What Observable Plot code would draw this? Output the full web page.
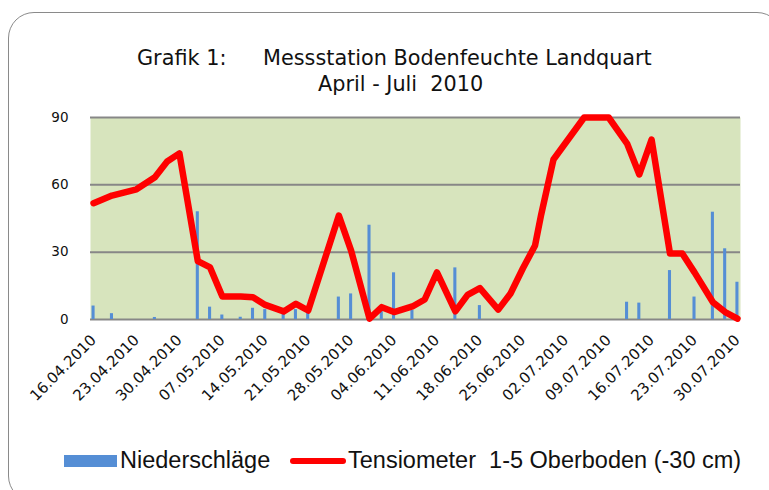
<!DOCTYPE html>
<html><head><meta charset="utf-8">
<script src="https://cdn.jsdelivr.net/npm/d3@7"></script>
<script src="https://cdn.jsdelivr.net/npm/@observablehq/plot@0.6"></script>
<style>
body{margin:0;background:#fff;}
#wrap{position:relative;width:769px;height:490px;overflow:hidden;font-family:"DejaVu Sans",sans-serif;color:#111;}
#frame{position:absolute;left:8px;top:12px;width:775px;height:490px;border:1.5px solid #8a8a8a;border-radius:26px;box-sizing:border-box;}
.t{position:absolute;white-space:pre;line-height:1;}
.lg{font-family:"Liberation Sans",Arial,sans-serif;font-size:23.5px;}
#chart{position:absolute;left:0;top:100px;}
#chart svg{overflow:visible;background:transparent;}
</style></head>
<body><div id="wrap">
<div id="frame"></div>
<div class="t" style="left:137px;top:47.5px;font-size:20.8px;">Grafik 1:</div>
<div class="t" style="left:263px;top:47.5px;font-size:20.8px;">Messstation Bodenfeuchte Landquart</div>
<div class="t" style="left:318px;top:73.5px;font-size:20.8px;">April - Juli  2010</div>
<div id="chart"></div>
<div style="position:absolute;left:64px;top:455px;width:53px;height:12px;background:#558ED5;"></div>
<div class="t lg" style="left:120px;top:449px;">Niederschläge</div>
<div style="position:absolute;left:290px;top:458px;width:56px;height:6px;border-radius:3px;background:#ff0000;"></div>
<div class="t lg" style="left:348px;top:449px;">Tensiometer  1-5 Oberboden (-30 cm)</div>
</div>
<script>
// Niederschläge (precipitation) per day
const rainDates = ["16.04.2010","19.04.2010","26.04.2010","03.05.2010","05.05.2010","07.05.2010","10.05.2010","12.05.2010","14.05.2010","17.05.2010","19.05.2010","21.05.2010","26.05.2010","28.05.2010","31.05.2010","02.06.2010","04.06.2010","07.06.2010","14.06.2010","18.06.2010","12.07.2010","14.07.2010","19.07.2010","23.07.2010","26.07.2010","28.07.2010","30.07.2010"];
const rainValues = [6,2.6,0.9,48,5.5,2,1,5,4.4,2.6,4.4,2.8,10,11.4,42,3.5,20.8,4,23,6.2,7.7,7.3,21.8,10,47.8,31.5,16.6];

// Tensiometer 1-5 Oberboden (-30 cm)
const tensioDates = ["16.04.2010","19.04.2010","23.04.2010","26.04.2010","28.04.2010","30.04.2010","03.05.2010","05.05.2010","07.05.2010","10.05.2010","12.05.2010","14.05.2010","17.05.2010","19.05.2010","21.05.2010","26.05.2010","28.05.2010","31.05.2010","02.06.2010","04.06.2010","07.06.2010","09.06.2010","11.06.2010","14.06.2010","16.06.2010","18.06.2010","21.06.2010","23.06.2010","25.06.2010","27.06.2010","28.06.2010","30.06.2010","05.07.2010","09.07.2010","12.07.2010","14.07.2010","16.07.2010","19.07.2010","21.07.2010","23.07.2010","26.07.2010","28.07.2010","30.07.2010"];
const tensioValues = [51.8,55.2,58,63.4,70.4,74,26,23.2,10.2,10.2,9.9,6.5,3.6,7,4,46.3,30.7,0.4,5.5,3.3,5.8,8.9,21,3.6,11,14,4.4,11.6,22.7,33,46.8,71.3,90,90,78.4,64.6,80.2,29.4,29.4,21,7.7,3.3,0.4];

const yTicks = [0,30,60,90];
const firstDay = "16.04.2010", lastDay = "30.07.2010";

const parse = d3.utcParse("%d.%m.%Y"), fmt = d3.utcFormat("%d.%m.%Y");
const allDays = d3.utcDay.range(parse(firstDay), d3.utcDay.offset(parse(lastDay), 1)).map(fmt);
const xTicks = allDays.filter((d, i) => i % 7 === 0);

const rain = rainDates.map((d, i) => ({date: d, value: rainValues[i]}));
const tensio = tensioDates.map((d, i) => ({date: d, value: tensioValues[i]}));

const chart = Plot.plot({
  width: 769, height: 300,
  marginLeft: 90, marginRight: 29, marginTop: 17, marginBottom: 81,
  style: {fontFamily: "'DejaVu Sans', sans-serif", fontSize: "13px", color: "#111", background: "transparent"},
  x: {type: "band", domain: allDays, paddingInner: 0.5, paddingOuter: 0.25, round: false},
  y: {domain: [0, 90]},
  marks: [
    Plot.frame({fill: "#D7E4BD", stroke: null}),
    Plot.ruleY(yTicks, {stroke: "#878787", strokeWidth: 2}),
    Plot.barY(rain, {x: "date", y: "value", fill: "#558ED5"}),
    Plot.line(tensio, {x: "date", y: "value", stroke: "#ff0000", strokeWidth: 6.5, strokeLinejoin: "round", strokeLinecap: "round"}),
    Plot.axisY({ticks: yTicks, tickSize: 0, tickPadding: 22, label: null, fontSize: 13.5}),
    Plot.axisX({ticks: xTicks, tickSize: 0, tickPadding: 18, tickRotate: -45, label: null, fontSize: 15})
  ]
});
document.getElementById("chart").appendChild(chart);
</script>
</body></html>
